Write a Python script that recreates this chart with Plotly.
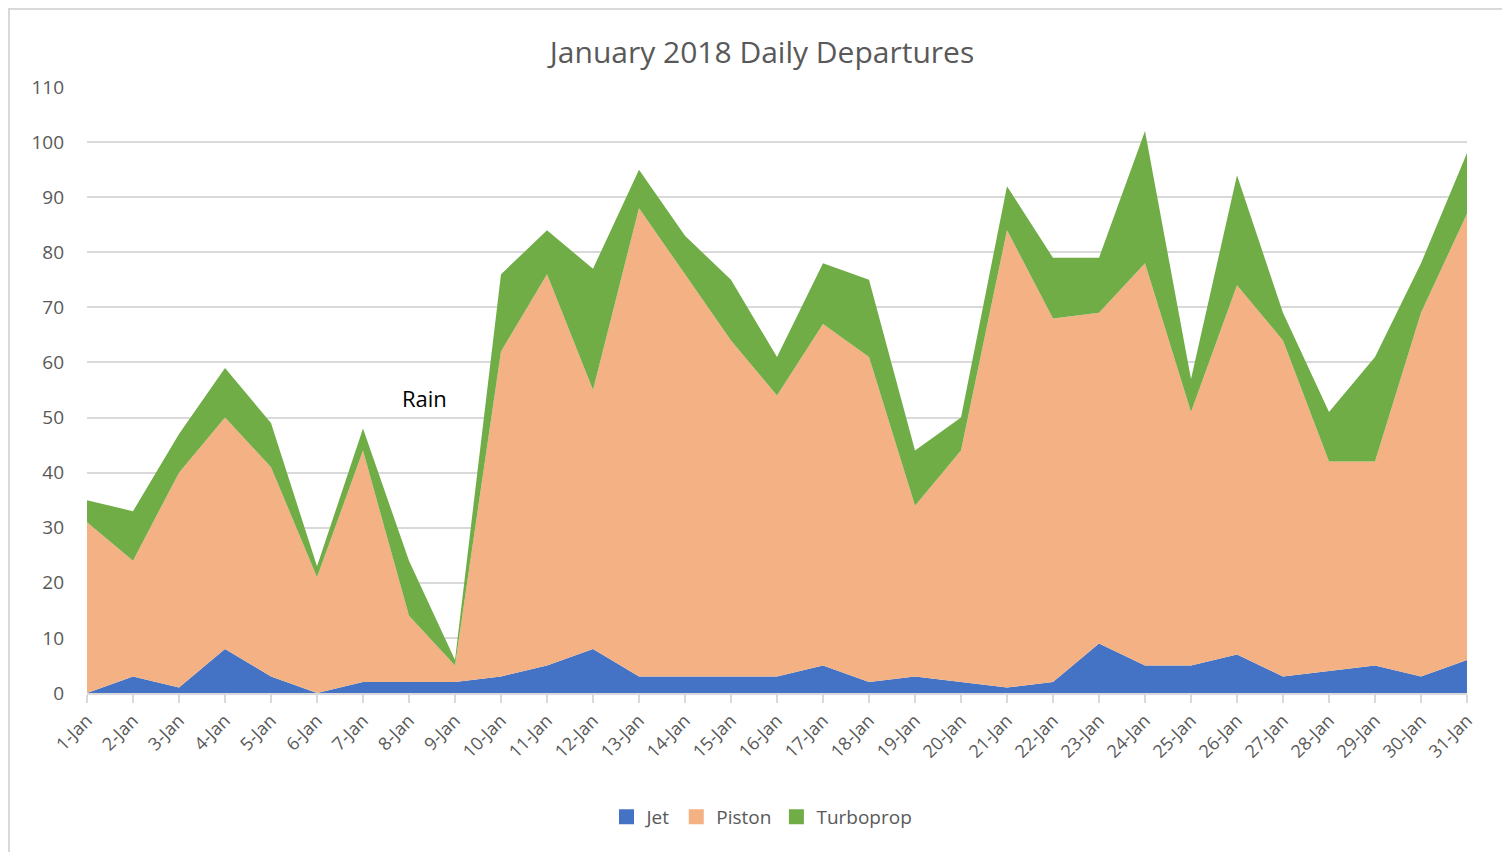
import plotly.graph_objects as go

days = [f"{d}-Jan" for d in range(1, 32)]
jet = [0, 3, 1, 8, 3, 0, 2, 2, 2, 3, 5, 8, 3, 3, 3, 3, 5, 2, 3, 2, 1, 2, 9, 5, 5, 7, 3, 4, 5, 3, 6]
piston = [31, 21, 39, 42, 38, 21, 42, 12, 3, 59, 71, 47, 85, 73, 61, 51, 62, 59, 31, 42, 83, 66, 60, 73, 46, 67, 61, 38, 37, 66, 81]
turboprop = [4, 9, 7, 9, 8, 2, 4, 10, 1, 14, 8, 22, 7, 7, 11, 7, 11, 14, 10, 6, 8, 11, 10, 24, 6, 20, 5, 9, 19, 9, 11]

series = [("Jet", jet, "#4472C4"), ("Piston", piston, "#F4B183"), ("Turboprop", turboprop, "#70AD47")]

FONT = "Open Sans"
GREY = "#595959"

fig = go.Figure()
for name, vals, col in series:
    fig.add_trace(go.Scatter(
        x=days, y=vals, name=name, mode="none", stackgroup="one",
        fillcolor=col, line=dict(width=0), showlegend=False,
    ))
# legend entries with square swatches
for name, vals, col in series:
    fig.add_trace(go.Scatter(
        x=[None], y=[None], name=name, mode="markers",
        marker=dict(symbol="square", size=15, color=col), showlegend=True,
    ))

# figure is placed by the page at an 8px offset
W, H = 1502, 844
L, R, T, B = 79, 1459, 79, 685

fig.update_layout(
    width=W, height=H,
    margin=dict(l=L, r=W - R, t=T, b=H - B),
    paper_bgcolor="white", plot_bgcolor="white",
    font=dict(family=FONT, color=GREY, size=19),
    title=dict(text="January 2018 Daily Departures", x=754 / W, xanchor="center",
               y=1 - 44 / H, yanchor="middle", yref="container",
               font=dict(size=30, color=GREY, family=FONT)),
    xaxis=dict(type="category", range=[0, 30], showgrid=False,
               showline=True, linecolor="#D9D9D9", linewidth=2,
               ticks="outside", ticklen=8, tickcolor="#D9D9D9", tickwidth=1.5,
               tickangle=-45, tickfont=dict(size=18, color=GREY)),
    yaxis=dict(range=[0, 110], dtick=10, showgrid=True, gridcolor="#D9D9D9", gridwidth=2,
               zeroline=False, showline=False, ticks="", ticklabelstandoff=22,
               tickfont=dict(size=19, color=GREY)),
    legend=dict(orientation="h", x=(754 - L) / (R - L), xanchor="center",
                y=(B - 809) / (B - T), yanchor="middle",
                font=dict(size=19, color=GREY), itemwidth=30, traceorder="normal"),
    showlegend=True,
)

fig.add_annotation(x=7.33, y=53.5, xref="x", yref="y", text="Rain", showarrow=False,
                   font=dict(size=22, color="black", family=FONT))

fig.add_shape(type="rect", xref="paper", yref="paper",
              x0=(1 - L) / (R - L), x1=(W + 2 - L) / (R - L),
              y0=(B - H - 2) / (B - T), y1=(B - 1) / (B - T),
              line=dict(color="#D9D9D9", width=2), fillcolor="rgba(0,0,0,0)", layer="below")

fig.write_html("out.html")
